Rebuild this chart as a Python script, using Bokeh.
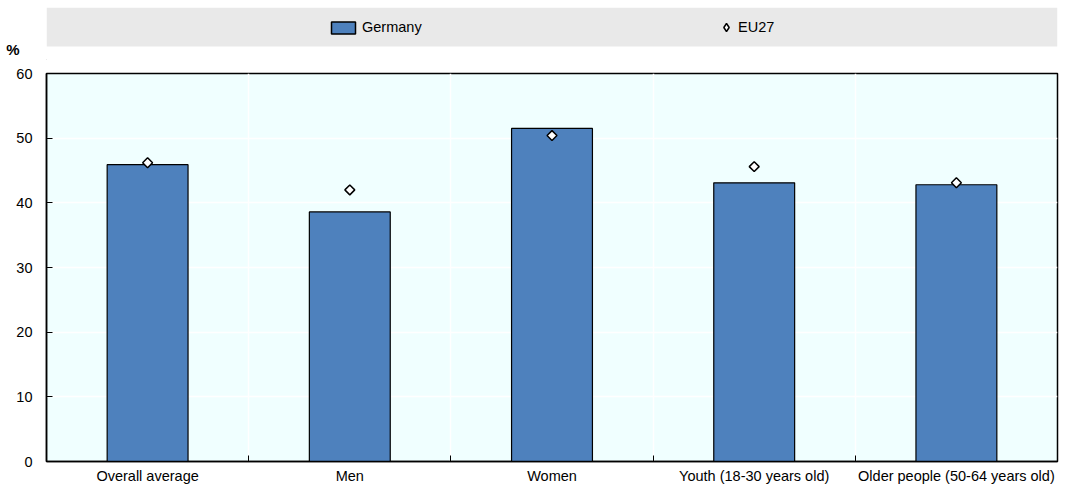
import numpy as np
from bokeh.plotting import figure
from bokeh.models import (ColumnDataSource, FixedTicker, Range1d, Legend, LegendItem, BoxAnnotation)
from bokeh.layouts import column
from bokeh.embed import file_html
from bokeh.resources import INLINE

categories = ["Overall average", "Men", "Women", "Youth (18-30 years old)", "Older people (50-64 years old)"]
germany = [45.9, 38.6, 51.5, 43.1, 42.8]
eu27 = [46.2, 42.0, 50.4, 45.6, 43.1]
y_ticks = [0, 10, 20, 30, 40, 50, 60]
unit_label = "%"

FONT = "Liberation Sans, Arial, sans-serif"
FS = "14.5px"
BAR = "#4E81BD"
BG = "#F0FFFF"

xs = [i + 0.5 for i in range(len(categories))]
src = ColumnDataSource(dict(x=xs, germany=germany, eu27=eu27))

# ---- legend band + unit label figure (pixel-scaled ranges) ----
top = figure(width=1066, height=60, output_backend="svg", toolbar_location=None,
             x_range=Range1d(0, 1018), y_range=Range1d(0, 53),
             x_axis_location=None, y_axis_location="left",
             min_border_left=46, min_border_right=2, min_border_top=7, min_border_bottom=0)
top.background_fill_color = "white"
top.border_fill_color = "white"
top.outline_line_color = None
top.grid.visible = False
top.add_layout(BoxAnnotation(bottom=14, top=53, fill_color="#E9E9E9", fill_alpha=1,
                             line_color=None, level="underlay"))
# unit label "%" drawn as the single tick label of the band figure's axis
top.yaxis.ticker = FixedTicker(ticks=[11])
top.yaxis.major_label_overrides = {11: unit_label}
top.yaxis.axis_line_color = None
top.yaxis.major_tick_line_color = None
top.yaxis.minor_tick_line_color = None
top.yaxis.major_label_standoff = 21
top.yaxis.major_label_text_font = FONT
top.yaxis.major_label_text_font_size = "15px"
top.yaxis.major_label_text_font_style = "bold"
top.yaxis.major_label_text_color = "black"

dummy = ColumnDataSource(dict(x=[-500], y=[-500]))
r_leg_bar = top.vbar(x="x", top="y", width=1, source=dummy, fill_color=BAR,
                     line_color="black", line_width=1.5)
r_leg_pt = top.scatter(x="x", y="y", source=dummy, marker="diamond",
                       fill_color="white", line_color="black", line_width=1.5)

def mk_legend(label, rend, x, y, gw, gh, standoff):
    return Legend(items=[LegendItem(label=label, renderers=[rend])], location=(x, y),
                  orientation="horizontal", padding=0, margin=0, spacing=0,
                  glyph_width=gw, glyph_height=gh, label_standoff=standoff,
                  label_text_font=FONT, label_text_font_size=FS,
                  label_text_color="black",
                  background_fill_alpha=0, border_line_color=None)

top.add_layout(mk_legend("Germany", r_leg_bar, 282, 25, 30, 15, 4), "center")
top.add_layout(mk_legend("EU27", r_leg_pt, 670, 23, 20, 20, 2), "center")

# ---- main chart ----
p = figure(width=1066, height=426, output_backend="svg", toolbar_location=None,
           x_range=Range1d(0, len(categories)), y_range=Range1d(0, 60),
           min_border_left=46, min_border_right=9, min_border_top=13, min_border_bottom=24)
p.background_fill_color = BG
p.border_fill_color = "white"
p.outline_line_color = "black"
p.outline_line_width = 1.5

p.vbar(x="x", top="germany", width=0.4, source=src, fill_color=BAR,
       line_color="black", line_width=1.2)
p.scatter(x="x", y="eu27", source=src, marker="square", angle=np.pi / 4, size=7,
          fill_color="white", line_color="black", line_width=1.5)

# y axis
p.yaxis.ticker = FixedTicker(ticks=y_ticks)
p.yaxis.major_tick_in = 6
p.yaxis.major_tick_out = 0
p.yaxis.minor_tick_line_color = None
p.yaxis.major_label_standoff = 14
p.yaxis.axis_line_color = "black"
p.yaxis.axis_line_width = 1.5
p.yaxis.major_label_text_font = FONT
p.yaxis.major_label_text_font_size = FS
p.yaxis.major_label_text_color = "black"

# x axis: labels at centers, ticks at boundaries
p.xaxis.ticker = FixedTicker(ticks=xs, minor_ticks=list(range(1, len(categories))))
p.xaxis.major_label_overrides = {x: c for x, c in zip(xs, categories)}
p.xaxis.major_tick_in = 0
p.xaxis.major_tick_out = 0
p.xaxis.minor_tick_in = 6
p.xaxis.minor_tick_out = 0
p.xaxis.minor_tick_line_color = "black"
p.xaxis.major_label_standoff = 6
p.xaxis.axis_line_color = "black"
p.xaxis.axis_line_width = 1.5
p.xaxis.major_label_text_font = FONT
p.xaxis.major_label_text_font_size = FS
p.xaxis.major_label_text_color = "black"

p.ygrid.ticker = FixedTicker(ticks=y_ticks)
p.ygrid.grid_line_color = "white"
p.ygrid.grid_line_width = 1.5
p.xgrid.ticker = FixedTicker(ticks=list(range(1, len(categories))))
p.xgrid.grid_line_color = "white"
p.xgrid.grid_line_width = 1.5

layout = column(top, p, spacing=0)
open("out.html", "w").write(file_html(layout, INLINE))
